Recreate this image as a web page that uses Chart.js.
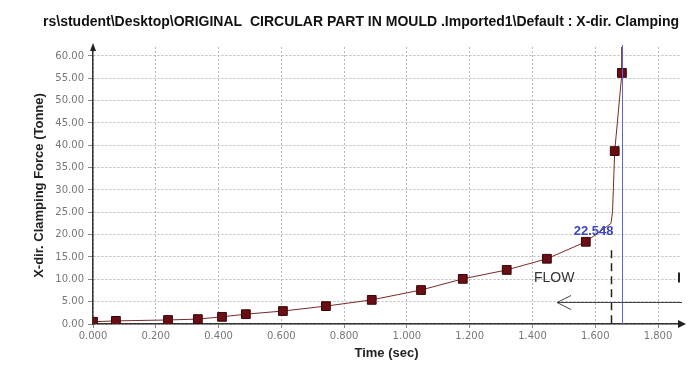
<!DOCTYPE html>
<html>
<head>
<meta charset="utf-8">
<script src="https://cdn.jsdelivr.net/npm/chart.js@4.4.1/dist/chart.umd.min.js"></script>
<style>
  html, body { margin: 0; padding: 0; background: #fff; }
  #wrap { width: 692px; height: 370px; }
</style>
</head>
<body>
<div id="wrap"><canvas id="clamp" width="692" height="370"></canvas></div>
<script>
var titleText = 'rs\\student\\Desktop\\ORIGINAL  CIRCULAR PART IN MOULD .Imported1\\Default : X-dir. Clamping';

// markers (time in sec, clamping force in tonne)
var markTime  = [0.000, 0.073, 0.239, 0.334, 0.411, 0.487, 0.605, 0.742, 0.888, 1.045, 1.178, 1.318, 1.446, 1.570, 1.662, 1.685];
var markForce = [0.5, 0.7, 0.9, 1.1, 1.6, 2.2, 2.9, 4.0, 5.4, 7.6, 10.1, 12.1, 14.6, 18.4, 38.7, 56.2];

// the curve itself, with the kink at the end of flow
var curveTime  = [0.000, 0.073, 0.239, 0.334, 0.411, 0.487, 0.605, 0.742, 0.888, 1.045, 1.178, 1.318, 1.446, 1.570, 1.650, 1.655, 1.662, 1.685, 1.684];
var curveForce = [0.5, 0.7, 0.9, 1.1, 1.6, 2.2, 2.9, 4.0, 5.4, 7.6, 10.1, 12.1, 14.6, 18.4, 22.5, 25.0, 38.7, 56.2, 62.0];

var xTicks = [0, 0.2, 0.4, 0.6, 0.8, 1.0, 1.2, 1.4, 1.6, 1.8];
var yTicks = [0, 5, 10, 15, 20, 25, 30, 35, 40, 45, 50, 55, 60];

var flowEnd = 1.650;
var flowValue = '22.548';
var cursorTime = 1.685;

function pts(xs, ys) {
  var out = [];
  for (var i = 0; i < xs.length; i++) out.push({x: xs[i], y: ys[i]});
  return out;
}

var overlay = {
  id: 'overlay',
  beforeDraw: function(chart) {
    var c = chart.ctx;
    c.save();
    c.fillStyle = '#fff';
    c.fillRect(0, 0, chart.width, chart.height);
    c.restore();
  },
  afterDatasetsDraw: function(chart) {
    var c = chart.ctx, a = chart.chartArea;
    var xs = chart.scales.x, ys = chart.scales.y;
    c.save();

    // end of flow marker (dashed)
    var fx = Math.round(xs.getPixelForValue(flowEnd)) + 0.5;
    c.strokeStyle = '#222';
    c.lineWidth = 1.5;
    c.setLineDash([8, 5]);
    c.beginPath();
    c.moveTo(fx, ys.getPixelForValue(16.5));
    c.lineTo(fx, a.bottom);
    c.stroke();
    c.setLineDash([]);

    // cursor line
    var bx = Math.round(xs.getPixelForValue(cursorTime)) + 0.5;
    c.strokeStyle = '#5a64e6';
    c.lineWidth = 1;
    c.beginPath();
    c.moveTo(bx, a.top - 2);
    c.lineTo(bx, a.bottom);
    c.stroke();

    // value label
    c.fillStyle = '#3a44c4';
    c.font = 'bold 13px "Liberation Sans", Arial, sans-serif';
    c.textAlign = 'right';
    c.textBaseline = 'middle';
    c.fillText(flowValue, fx + 2, ys.getPixelForValue(20.8));

    // FLOW arrow
    c.fillStyle = '#333';
    c.font = '14px "Liberation Sans", Arial, sans-serif';
    c.textAlign = 'left';
    c.fillText('FLOW', 534, ys.getPixelForValue(10.2));
    var ay = Math.round(ys.getPixelForValue(4.9)) + 0.5;
    c.strokeStyle = '#444';
    c.lineWidth = 1;
    c.beginPath();
    c.moveTo(557, ay);
    c.lineTo(a.right + 2, ay);
    c.moveTo(571, ay - 7);
    c.lineTo(557, ay);
    c.lineTo(571, ay + 7);
    c.stroke();
    c.lineWidth = 2;
    c.strokeStyle = '#222';
    c.beginPath();
    c.moveTo(679, ys.getPixelForValue(11.5));
    c.lineTo(679, ys.getPixelForValue(9.3));
    c.stroke();

    // axis arrows
    c.fillStyle = '#222';
    var lx = a.left, by = a.bottom;
    c.beginPath();
    c.moveTo(lx, a.top - 4);
    c.lineTo(lx - 3, a.top + 4);
    c.lineTo(lx + 3, a.top + 4);
    c.closePath();
    c.fill();
    c.beginPath();
    c.moveTo(a.right + 6, by);
    c.lineTo(a.right - 2, by - 4);
    c.lineTo(a.right - 2, by + 4);
    c.closePath();
    c.fill();

    // title
    c.fillStyle = '#111';
    c.font = 'bold 14px "Liberation Sans", Arial, sans-serif';
    c.textAlign = 'center';
    c.textBaseline = 'middle';
    c.fillText(titleText, 361, 22);
    c.restore();
  }
};

var ctx = document.getElementById('clamp').getContext('2d');
var chartClamp = new Chart(ctx, {
  type: 'line',
  data: {
    datasets: [{
      label: 'markers',
      data: pts(markTime, markForce),
      showLine: false,
      pointStyle: 'rect',
      pointRadius: 6.2,
      pointBackgroundColor: '#6a0e14',
      pointBorderColor: '#3a0608',
      pointBorderWidth: 1,
      order: 0
    }, {
      label: 'curve',
      data: pts(curveTime, curveForce),
      borderColor: '#7a2a2a',
      borderWidth: 1,
      pointRadius: 0,
      tension: 0,
      order: 1
    }]
  },
  options: {
    responsive: false,
    animation: false,
    layout: { padding: { top: 47, right: 12, left: 0, bottom: 0 } },
    plugins: {
      legend: { display: false },
      tooltip: { enabled: false },
      title: { display: false }
    },
    scales: {
      x: {
        type: 'linear',
        min: 0,
        max: 1.87,
        afterBuildTicks: function(s) { s.ticks = xTicks.map(function(v) { return {value: v}; }); },
        afterFit: function(s) { s.height = 46; },
        ticks: {
          color: '#777',
          font: { size: 10, family: '"DejaVu Sans", sans-serif' },
          padding: 2,
          maxRotation: 0,
          callback: function(v) { return Number(v).toFixed(3); }
        },
        grid: { color: '#b8b8b8', tickLength: 4, tickColor: '#888', tickBorderDash: [] },
        border: { color: '#333', width: 1.5, dash: [2, 2] },
        title: {
          display: true,
          text: 'Time (sec)',
          color: '#222',
          font: { size: 13, weight: 'bold', family: '"Liberation Sans", Arial, sans-serif' },
          padding: { top: 9, bottom: 9 }
        }
      },
      y: {
        type: 'linear',
        min: 0,
        max: 62,
        afterBuildTicks: function(s) { s.ticks = yTicks.map(function(v) { return {value: v}; }); },
        afterFit: function(s) { s.width = 93; },
        ticks: {
          color: '#777',
          font: { size: 10, family: '"DejaVu Sans", sans-serif' },
          padding: 4,
          callback: function(v) { return Number(v).toFixed(2); }
        },
        grid: { color: '#b8b8b8', tickLength: 5, tickColor: '#888', tickBorderDash: [] },
        border: { color: '#333', width: 1.5, dash: [2, 2] },
        title: {
          display: true,
          text: 'X-dir. Clamping Force (Tonne)',
          color: '#222',
          font: { size: 13, weight: 'bold', family: '"Liberation Sans", Arial, sans-serif' },
          padding: { top: 32, bottom: 0 }
        }
      }
    }
  },
  plugins: [overlay]
});
</script>
</body>
</html>
